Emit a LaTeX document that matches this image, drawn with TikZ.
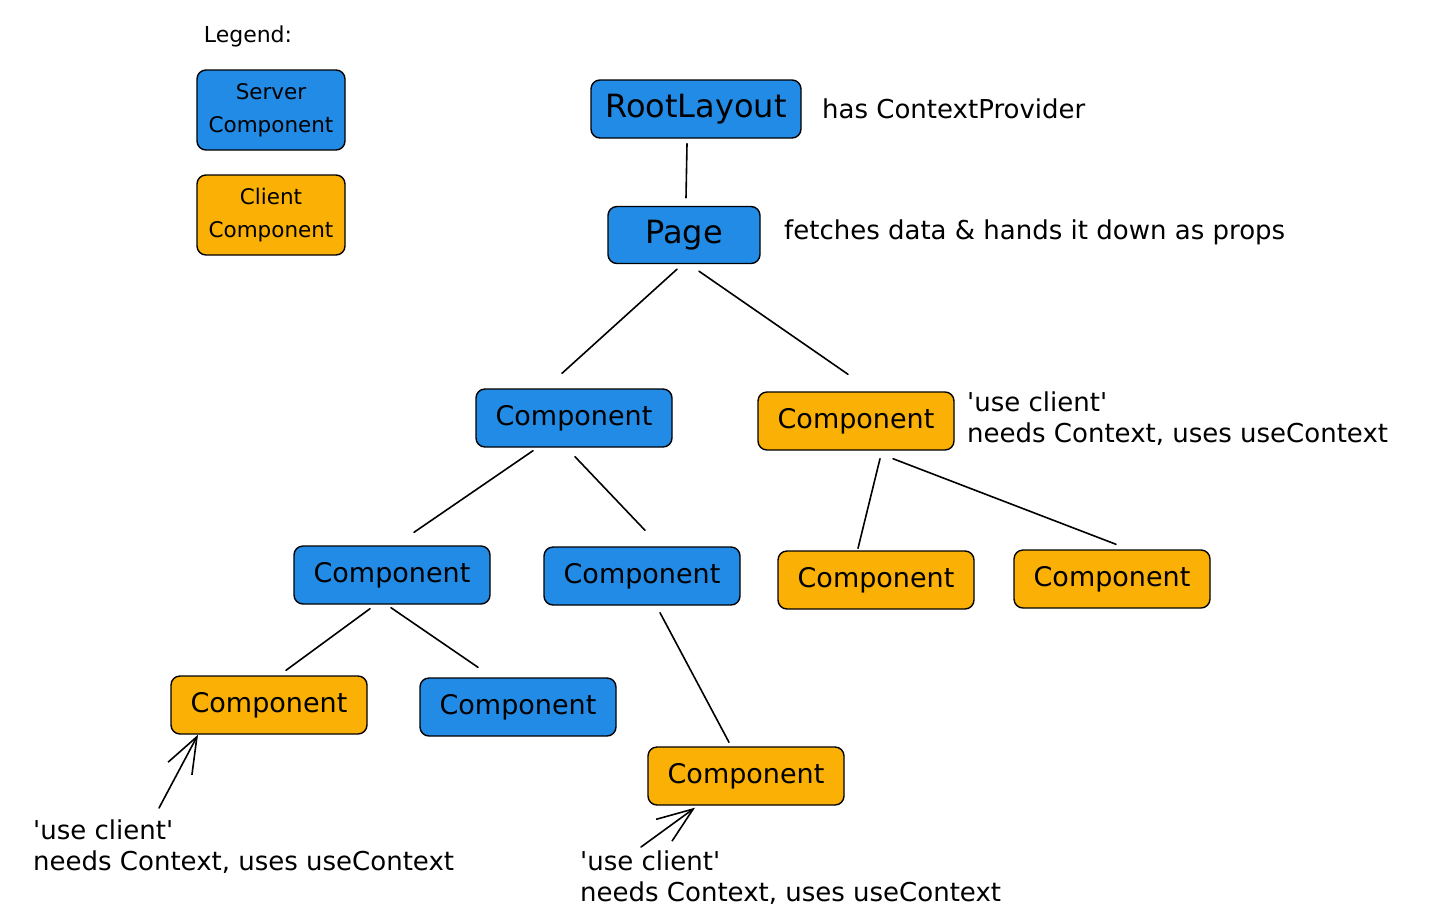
\documentclass[tikz,border=0pt]{standalone}
\usepackage{fontspec}
\newfontfamily\hand{DejaVu Sans}
\usetikzlibrary{arrows.meta}
\definecolor{srvblue}{HTML}{228BE6}
\definecolor{cliorange}{HTML}{FAB005}
\tikzset{
  box/.style={draw=black, line width=1.4pt, rounded corners=9pt, inner sep=0pt, text=black},
  srv/.style={box, fill=srvblue},
  cli/.style={box, fill=cliorange},
  comp/.style={minimum width=196pt, minimum height=58pt, font=\hand\fontsize{27}{32}\selectfont},
  big/.style={minimum height=58pt, font=\hand\fontsize{32}{38}\selectfont},
  leg/.style={minimum width=148pt, minimum height=80pt, align=center, font=\hand\fontsize{21.5}{33}\selectfont},
  note/.style={anchor=west, inner sep=0pt, font=\hand\fontsize{26}{31}\selectfont},
  notes/.style={anchor=north west, inner sep=0pt, align=left, font=\hand\fontsize{26}{31}\selectfont},
  link/.style={line width=1.6pt, line cap=round},
  callout/.style={line width=1.6pt, line cap=round, -{Straight Barb[length=36pt,width=27pt,line width=1.6pt]}},
}
\begin{document}
\begin{tikzpicture}[x=1pt,y=-1pt]
\useasboundingbox (0,0) rectangle (1451,922);
% legend
\node[inner sep=0pt, font=\hand\fontsize{22}{26}\selectfont] (legend) at (248,36) {Legend:};
\node[srv, leg] (lsrv) at (271,110) {Server\\Component};
\node[cli, leg] (lcli) at (271,215) {Client\\Component};
% tree
\node[srv, big, minimum width=210pt] (root) at (696,109) {RootLayout};
\node[note] (rootnote) at (822,109) {has ContextProvider};
\node[srv, big, minimum width=152pt, minimum height=57pt] (page) at (684,235) {Page};
\node[note] (pagenote) at (784,232) {fetches data \& hands it down as props};
\node[srv, comp] (a) at (574,418) {Component};
\node[cli, comp] (b) at (856,421) {Component};
\node[notes] (bnote) at (967,392) {'use client'\\needs Context, uses useContext};
\node[srv, comp] (c) at (392,575) {Component};
\node[srv, comp] (d) at (642,576) {Component};
\node[cli, comp] (e) at (876,580) {Component};
\node[cli, comp] (f) at (1112,579) {Component};
\node[cli, comp] (g) at (269,705) {Component};
\node[srv, comp] (h) at (518,707) {Component};
\node[cli, comp] (i) at (746,776) {Component};
\node[notes] (gnote) at (33,820) {'use client'\\needs Context, uses useContext};
\node[notes] (inote) at (580,851) {'use client'\\needs Context, uses useContext};
% connectors
\draw[link] ([xshift=-9pt,yshift=-5pt]root.south) -- ([xshift=2pt,yshift=8pt]page.north);
\draw[link] ([xshift=-7pt,yshift=-5pt]page.south) -- ([xshift=-12pt,yshift=15pt]a.north);
\draw[link] ([xshift=15pt,yshift=-7pt]page.south) -- ([xshift=-8pt,yshift=17pt]b.north);
\draw[link] ([xshift=-41pt,yshift=-3pt]a.south) -- ([xshift=22pt,yshift=13pt]c.north);
\draw[link] ([xshift=1pt,yshift=-9pt]a.south) -- ([xshift=3pt,yshift=16pt]d.north);
\draw[link] ([xshift=24pt,yshift=-8pt]b.south) -- ([xshift=-18pt,yshift=2pt]e.north);
\draw[link] ([xshift=37pt,yshift=-8pt]b.south) -- ([xshift=4pt,yshift=5pt]f.north);
\draw[link] ([xshift=-22pt,yshift=-4pt]c.south) -- ([xshift=17pt,yshift=5pt]g.north);
\draw[link] ([xshift=-1pt,yshift=-3pt]c.south) -- ([xshift=-40pt,yshift=10pt]h.north);
\draw[link] ([xshift=18pt,yshift=-7pt]d.south) -- ([xshift=-17pt,yshift=4pt]i.north);
% callouts
\coordinate (gfrom) at (159,808);
\coordinate (ifrom) at (641,847);
\draw[callout] (gfrom) -- ([xshift=-71pt]g.south);
\draw[callout] (ifrom) -- ([xshift=-51pt,yshift=-2pt]i.south);
\end{tikzpicture}
\end{document}
